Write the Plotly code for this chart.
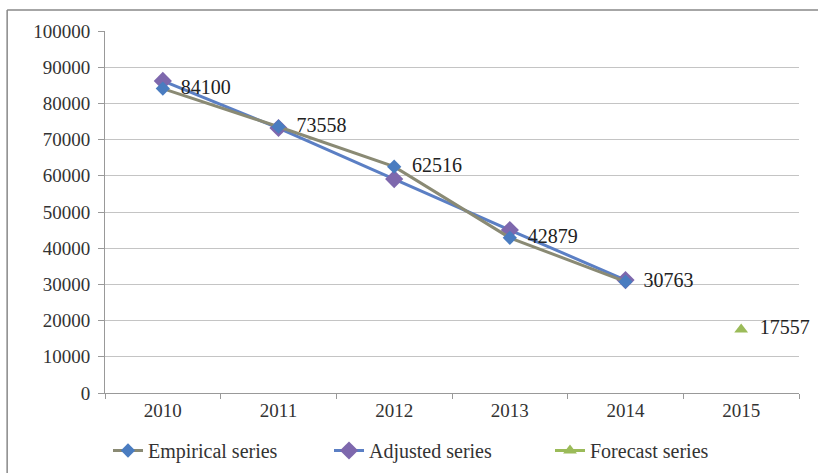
import plotly.graph_objects as go

years = ["2010", "2011", "2012", "2013", "2014", "2015"]
empirical = [84100, 73558, 62516, 42879, 30763]
adjusted = [86200, 73200, 59100, 45000, 31200]
forecast_years = ["2015"]
forecast = [17557]
y_ticks = [0, 10000, 20000, 30000, 40000, 50000, 60000, 70000, 80000, 90000, 100000]

FONT = "Liberation Serif"

fig = go.Figure()
fig.add_trace(go.Scatter(
    x=years[:5], y=adjusted, name="Adjusted series", mode="lines+markers",
    line=dict(color="#5b7fc4", width=3),
    marker=dict(symbol="diamond", size=14, color="#7e68ad"),
    legendrank=2,
))
fig.add_trace(go.Scatter(
    x=years[:5], y=empirical, name="Empirical series", mode="lines+markers+text",
    line=dict(color="#8a8a74", width=3),
    marker=dict(symbol="diamond", size=11, color="#4a7cc0"),
    text=[str(v) for v in empirical], texttemplate="  %{text}", textposition="middle right",
    textfont=dict(family=FONT, size=20, color="#222"),
    legendrank=1,
))
fig.add_trace(go.Scatter(
    x=forecast_years, y=forecast, name="Forecast series", mode="lines+markers+text",
    line=dict(color="#9bbb59", width=3),
    marker=dict(symbol="triangle-up", size=12, color="#9bbb59"),
    text=[str(v) for v in forecast], texttemplate="  %{text}", textposition="middle right",
    textfont=dict(family=FONT, size=20, color="#222"),
    cliponaxis=False, legendrank=3,
))

fig.update_layout(
    width=818, height=473,
    margin=dict(l=105, r=19, t=31, b=80, autoexpand=False),
    paper_bgcolor="white", plot_bgcolor="white",
    font=dict(family=FONT, size=19, color="#333"),
    legend=dict(orientation="h", x=(108 - 105) / 694, xanchor="left", y=-0.105, yanchor="top",
                font=dict(family=FONT, size=20, color="#333"),
                entrywidth=176, traceorder="normal"),
    xaxis=dict(type="category", categoryarray=years, range=[-0.5, 5.5],
               showgrid=False, showline=True, linecolor="#999", linewidth=1,
               ticks="outside", tickson="boundaries", ticklen=5, tickcolor="#999",
               automargin=False,
               tickfont=dict(family=FONT, size=19, color="#333")),
    yaxis=dict(range=[0, 100000], tickvals=y_ticks, ticktext=[str(v) for v in y_ticks],
               showgrid=True, gridcolor="#c4c4c4", gridwidth=1,
               showline=True, linecolor="#999", linewidth=1,
               ticks="outside", ticklen=6, tickcolor="#999", zeroline=False,
               ticklabelstandoff=4, automargin=False,
               tickfont=dict(family=FONT, size=19, color="#333")),
    shapes=[
        dict(type="line", xref="paper", yref="paper", x0=-0.141, x1=-0.141, y0=1.058, y1=-0.3,
             line=dict(color="#888", width=1.5)),
        dict(type="line", xref="paper", yref="paper", x0=-0.141, x1=1.03, y0=1.058, y1=1.058,
             line=dict(color="#888", width=1.5)),
    ],
)

fig.write_html("out.html")
